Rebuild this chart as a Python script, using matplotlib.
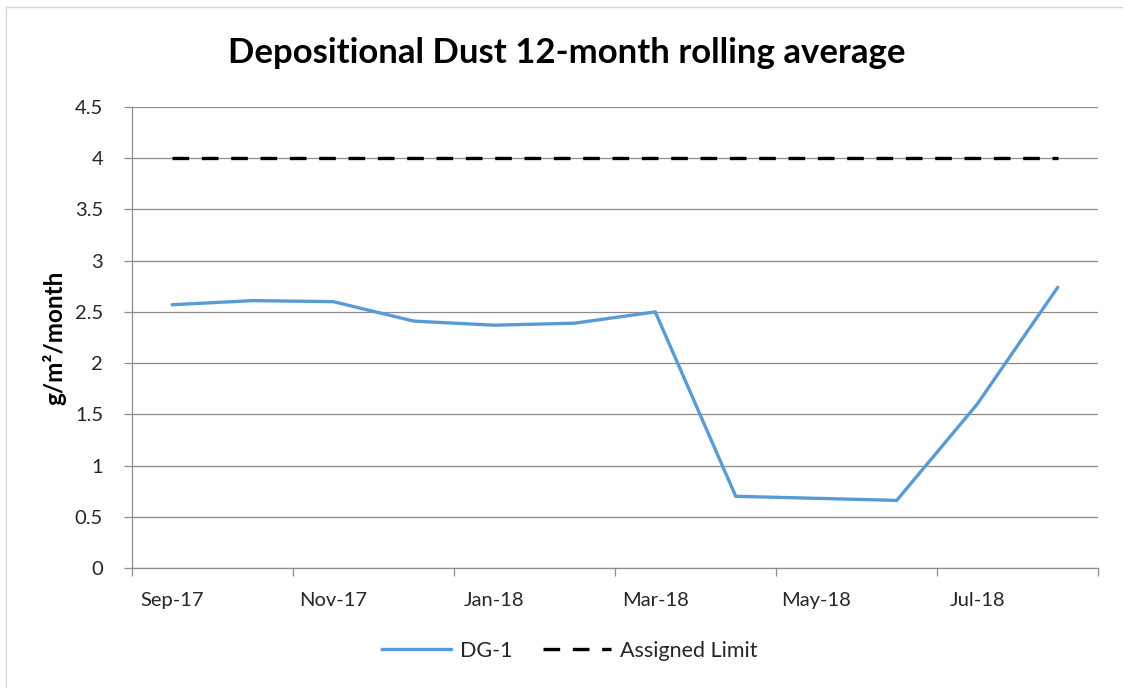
import matplotlib
matplotlib.use("Agg")
import matplotlib.pyplot as plt
from matplotlib.lines import Line2D
import numpy as np

plt.rcParams['font.family'] = ['Lato', 'DejaVu Sans']

months = ["Sep-17", "Oct-17", "Nov-17", "Dec-17", "Jan-18", "Feb-18",
          "Mar-18", "Apr-18", "May-18", "Jun-18", "Jul-18", "Aug-18"]
dg1 = [2.57, 2.61, 2.60, 2.41, 2.37, 2.39, 2.50, 0.70, 0.68, 0.66, 1.60, 2.74]
limit = [4, 4, 4, 4, 4, 4, 4, 4, 4, 4, 4, 4]
y_ticks = [0, 0.5, 1, 1.5, 2, 2.5, 3, 3.5, 4, 4.5]

W, H = 1123, 688
fig = plt.figure(figsize=(W / 100, H / 100), dpi=100)
ax = fig.add_axes([132 / W, 120 / H, 966 / W, 461 / H])

x = np.arange(len(months))
grid_c = "#8c8c8c"
dash = (5.0, 3.8)

ax.plot(x, dg1, color="#5B9BD5", lw=2.4, solid_joinstyle="round",
        solid_capstyle="round", zorder=3)
ax.plot(x, limit, color="black", lw=2.4, dashes=dash, zorder=3)

ax.set_xlim(-0.5, len(months) - 0.5)
ax.set_ylim(0, 4.5)
ax.set_yticks(y_ticks)
ax.set_yticklabels([("%g" % v) for v in y_ticks])
ax.yaxis.grid(True, color=grid_c, lw=0.9)
ax.set_axisbelow(True)

ax.set_xticks(x[::2])
ax.set_xticklabels(months[::2])
ax.set_xticks(np.arange(-0.5, len(months), 2), minor=True)
ax.tick_params(axis="x", which="major", length=0, pad=17, labelsize=14.5,
               colors="#262626")
ax.tick_params(axis="x", which="minor", length=5.8, color=grid_c, width=0.9)
ax.tick_params(axis="y", length=5.8, color=grid_c, width=0.9, pad=15,
               labelsize=14.5, labelcolor="#262626")

for s in ["top", "right"]:
    ax.spines[s].set_visible(False)
for s in ["left", "bottom"]:
    ax.spines[s].set_color(grid_c)
    ax.spines[s].set_linewidth(0.9)

ax.set_ylabel("g/m²/month", fontsize=17.5, fontweight="bold", labelpad=6)
fig.text(567 / W, 1 - 53 / H, "Depositional Dust 12-month rolling average",
         ha="center", va="center", fontsize=25, fontweight="bold")

handles = [Line2D([], [], color="#5B9BD5", lw=2.4),
           Line2D([], [], color="black", lw=2.4, dashes=dash)]
fig.legend(handles, ["DG-1", "Assigned Limit"], loc="center",
           bbox_to_anchor=(570 / W, 1 - 651 / H), ncol=2, frameon=False,
           fontsize=15.5, handlelength=3.2, columnspacing=1.4,
           handletextpad=0.4, labelcolor="#262626")

# faint chart border
fig.add_artist(Line2D([6 / W, 6 / W], [0, 1 - 7 / H], color="#d9d9d9",
                      lw=1, transform=fig.transFigure))
fig.add_artist(Line2D([6 / W, 1], [1 - 7 / H, 1 - 7 / H], color="#d9d9d9",
                      lw=1, transform=fig.transFigure))

fig.savefig("out.png", dpi=100)
